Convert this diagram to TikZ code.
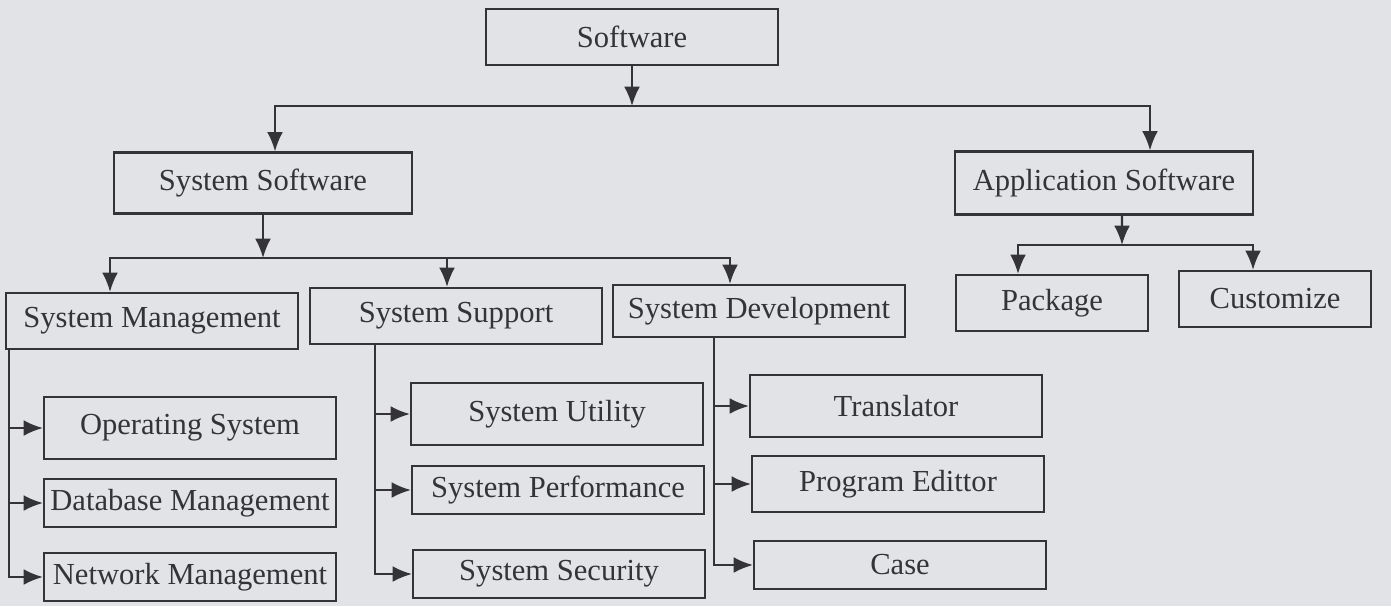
\documentclass[tikz,border=0pt]{standalone}
\usepackage{fontspec}
\setmainfont{Liberation Serif}
\usetikzlibrary{arrows.meta}
\definecolor{paper}{RGB}{226,227,231}
\definecolor{ink}{RGB}{52,52,56}
\begin{document}
\begin{tikzpicture}[x=0.02cm,y=-0.02cm,
  box/.style={draw=ink,line width=1.2pt,text=ink,minimum width=5.84cm,minimum height=1.12cm,inner sep=2pt,font=\fontsize{17.4}{20}\selectfont},
  tall/.style={box,minimum height=1.24cm},
  low/.style={box,minimum height=0.96cm},
  small/.style={box,minimum width=3.84cm},
  link/.style={draw=ink,line width=1.2pt,-{Latex[length=11pt,width=9pt]}}]
\fill[paper] (0,0) rectangle (1391,606);
% top levels
\node[box] (soft) at (632,37){Software};
\node[box,minimum width=5.96cm,minimum height=1.22cm] (syssw) at (263,183){System Software};
\node[box,minimum width=5.96cm,minimum height=1.26cm] (appsw) at (1104,183){Application Software};
\node[box] (sysman) at (152,321){System Management};
\node[box] (syssup) at (456,316){System Support};
\node[low,minimum height=1.04cm] (sysdev) at (759,311){System Development};
\node[small] (pack) at (1052,303){Package};
\node[small] (cust) at (1275,299){Customize};
% leaves
\node[tall] (os) at (190,428){Operating System};
\node[low] (dbm) at (190,503){Database Management};
\node[low] (netm) at (190,577){Network Management};
\node[tall] (util) at (557,414){System Utility};
\node[low] (perf) at (558,490){System Performance};
\node[low] (secu) at (559,574){System Security};
\node[tall] (trans) at (896,406){Translator};
\node[box] (proged) at (898,484){Program Edittor};
\node[low] (case) at (900,565){Case};
% connectors
\coordinate (softbar) at (632,106);
\coordinate (sysbar) at (263,258);
\coordinate (appbar) at (1122,245);
\draw[link] (soft) -- (softbar);
\draw[link] (softbar) -| ([xshift=0.24cm]syssw.north);
\draw[link] (softbar) -| ([xshift=0.92cm]appsw.north);
\draw[link] (syssw) -- (sysbar);
\draw[link] (sysbar) -| ([xshift=-0.84cm]sysman.north);
\draw[link] (sysbar) -| ([xshift=-0.18cm]syssup.north);
\draw[link] (sysbar) -| ([xshift=-0.58cm]sysdev.north);
\draw[link] ([xshift=0.36cm]appsw.south) -- (appbar);
\draw[link] (appbar) -| ([xshift=-0.68cm]pack.north);
\draw[link] (appbar) -| ([xshift=-0.44cm]cust.north);
\foreach \leaf in {os,dbm,netm}
  \draw[link] ([xshift=0.08cm]sysman.south west) |- (\leaf);
\foreach \leaf in {util,perf,secu}
  \draw[link] ([xshift=1.32cm]syssup.south west) |- (\leaf);
\foreach \leaf in {trans,proged,case}
  \draw[link] ([xshift=2.04cm]sysdev.south west) |- (\leaf);
\end{tikzpicture}
\end{document}
